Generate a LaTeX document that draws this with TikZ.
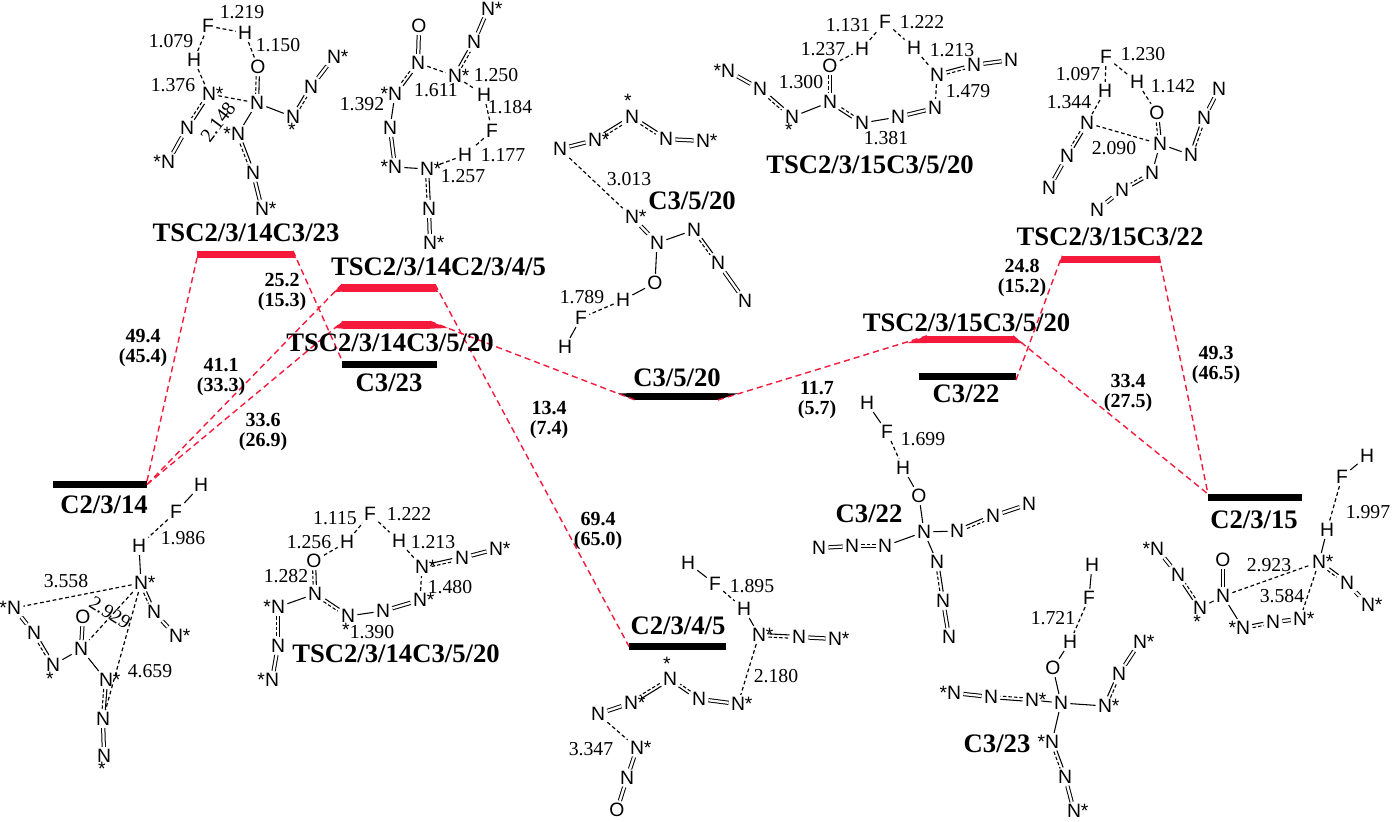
\documentclass[tikz,border=0pt]{standalone}
\usepackage{fontspec}
\setmainfont{Liberation Serif}
\newfontfamily\atomfont{Liberation Sans}
\usetikzlibrary{decorations.markings}
\definecolor{tsred}{RGB}{245,25,60}
\tikzset{
  atom/.style={inner sep=1.6pt,font=\atomfont\fontsize{14.5}{16}\selectfont},
  dist/.style={inner sep=0pt,font=\fontsize{14.8}{16}\selectfont,text=black},
  title/.style={inner sep=0pt,font=\bfseries\fontsize{20}{24}\selectfont},
  energy/.style={inner sep=0pt,align=center,font=\bfseries\fontsize{15}{15}\selectfont},
  lvblack/.style={fill=black,inner sep=0pt,outer sep=0pt,minimum height=5.25pt},
  lvred/.style={fill=tsred,inner sep=0pt,outer sep=0pt,minimum height=5.5pt},
  path/.style={tsred,line width=1.05pt,dash pattern=on 4.6pt off 3pt},
  sb/.style={line width=0.8pt},
  db/.style={line width=0.75pt,double,double distance=1.7pt},
  hb/.style={line width=0.9pt,dash pattern=on 2.8pt off 2pt},
  pb/.style={draw=none,postaction={decorate,decoration={markings,mark=at position 0.5 with {
    \draw[draw=black,line width=0.8pt] ({-0.5*\pgfdecoratedpathlength},1.2pt) -- ({0.5*\pgfdecoratedpathlength},1.2pt);
    \draw[draw=black,line width=0.8pt,dash pattern=on 2.6pt off 1.5pt] ({-0.5*\pgfdecoratedpathlength},-1.2pt) -- ({0.5*\pgfdecoratedpathlength},-1.2pt);
  }}}},
}
\begin{document}
\begin{tikzpicture}[x=0.75pt,y=0.75pt,yscale=-1,xscale=1]
\useasboundingbox (0,0) rectangle (1392,821);

%Energy levels
\node[lvblack,minimum width=70.5pt] (lvA) at (100,484.5) {};
\node[lvred,minimum width=72pt] (lvB) at (245,254.5) {};
\node[lvred,minimum width=69.75pt] (lvC) at (388.5,288) {};
\node[lvred,minimum width=65.25pt] (lvD) at (386.5,325) {};
\node[lvblack,minimum width=71.25pt] (lvE) at (389.5,364) {};
\node[lvblack,minimum width=62.25pt] (lvF) at (676.5,396.5) {};
\node[lvred,minimum width=64.5pt] (lvG) at (970,339.5) {};
\node[lvblack,minimum width=72.75pt] (lvH) at (967.5,376.5) {};
\node[lvred,minimum width=72.75pt] (lvI) at (1110.5,259.5) {};
\node[lvblack,minimum width=70.5pt] (lvJ) at (1255,497.5) {};
\node[lvblack,minimum width=72.75pt] (lvK) at (677.5,646.5) {};
%Tapered ends
\fill[tsred] (lvB.north east) -- (lvB.south east) -- (296,258) -- cycle;
\fill[tsred] (lvC.north west) -- (lvC.south west) -- (334,292) -- cycle;
\fill[tsred] (lvC.north east) -- (lvC.south east) -- (438,292) -- cycle;
\fill[tsred] (lvD.north west) -- (lvD.south west) -- (334,328) -- cycle;
\fill[tsred] (lvD.north east) -- (lvD.south east) -- (448,328) -- cycle;
\fill[black] (lvF.south west) -- (lvF.north west) -- (618,393.5) -- cycle;
\fill[black] (lvF.south east) -- (lvF.north east) -- (738,393.5) -- cycle;
\fill[tsred] (lvG.north west) -- (lvG.south west) -- (907,343) -- cycle;
\fill[tsred] (lvG.north east) -- (lvG.south east) -- (1023,343) -- cycle;
\fill[tsred] (lvI.north west) -- (lvI.south west) -- (1059,263) -- cycle;
\fill[tsred] (lvI.north east) -- (lvI.south east) -- (1161,263) -- cycle;

%Reaction paths
\draw[path] (lvA.north east) -- (lvB.south west);
\draw[path] (lvA.east) -- (lvC.north west);
\draw[path] (lvA.east) -- (lvD.north west);
\draw[path] (lvB.north east) -- (lvE.north west);
\draw[path] (lvC.north east) -- (lvK.west);
\draw[path] (lvD.north east) -- (lvF.south west);
\draw[path] (lvF.south east) -- (lvG.north west);
\draw[path] (lvG.north east) -- (lvJ.north west);
\draw[path] (lvH.south east) -- (lvI.north west);
\draw[path] (lvI.north east) -- (lvJ.north west);

%Level and structure titles
\node[title] (t1) at (246,233) {TSC2/3/14C3/23};
\node[title] (t2) at (438.5,267) {TSC2/3/14C2/3/4/5};
\node[title] (t3) at (390,343) {TSC2/3/14C3/5/20};
\node[title] (t4) at (389,383) {C3/23};
\node[title] (t5) at (104,505) {C2/3/14};
\node[title] (t6) at (677,378) {C3/5/20};
\node[title] (t7) at (966.5,323) {TSC2/3/15C3/5/20};
\node[title] (t8) at (966,394) {C3/22};
\node[title] (t9) at (1110,237) {TSC2/3/15C3/22};
\node[title] (t10) at (1254,520) {C2/3/15};
\node[title] (t11) at (678,626) {C2/3/4/5};
\node[title] (t12) at (396,654) {TSC2/3/14C3/5/20};
\node[title] (t13) at (870,165) {TSC2/3/15C3/5/20};
\node[title] (t14) at (692,201) {C3/5/20};
\node[title] (t15) at (869,514) {C3/22};
\node[title] (t16) at (997,744) {C3/23};

%Energies
\node[energy] (e1) at (143,348) {49.4\\(45.4)};
\node[energy] (e2) at (282,292) {25.2\\(15.3)};
\node[energy] (e3) at (221,377) {41.1\\(33.3)};
\node[energy] (e4) at (263,432) {33.6\\(26.9)};
\node[energy] (e5) at (549,420) {13.4\\(7.4)};
\node[energy] (e6) at (817,400) {11.7\\(5.7)};
\node[energy] (e7) at (1022,278) {24.8\\(15.2)};
\node[energy] (e8) at (1128,393) {33.4\\(27.5)};
\node[energy] (e9) at (1216,365) {49.3\\(46.5)};
\node[energy] (e10) at (598,531) {69.4\\(65.0)};

%Structure TSC2/3/14C3/23
\node[atom] (aF) at (208,26) {F};
\node[atom] (aH1) at (245,33) {H};
\node[atom] (aH2) at (194,60) {H};
\node[atom] (aO) at (258,67) {O};
\node[atom] (aN1) at (209,94) {N\rlap{*}};
\node[atom] (aN2) at (257,103) {N};
\node[atom] (aN3) at (293,117) {N};
\node[atom] (aS3) at (292,130) {*};
\node[atom] (aN4) at (311,87) {N};
\node[atom] (aN5) at (334,57) {N\rlap{*}};
\node[atom] (aN6) at (187,128) {N};
\node[atom] (aN7) at (168,162) {\llap{*}N};
\node[atom] (aN8) at (238,134) {\llap{*}N};
\node[atom] (aN9) at (253,173) {N};
\node[atom] (aN10) at (262,209) {N\rlap{*}};
\draw[hb] (aH2) -- (aF);
\draw[hb] (aF) -- (aH1);
\draw[hb] (aH1) -- (aO);
\draw[hb] (aH2) -- (aN1);
\draw[hb] (aN1) -- (aN2);
\draw[pb] (aO) -- (aN2);
\draw[sb] (aN2) -- (aN3);
\draw[pb] (aN3) -- (aN4);
\draw[db] (aN4) -- (aN5);
\draw[pb] (aN1) -- (aN6);
\draw[db] (aN6) -- (aN7);
\draw[sb] (aN2) -- (aN8);
\draw[pb] (aN8) -- (aN9);
\draw[db] (aN9) -- (aN10);
\node[dist] (ad1) at (242,12) {1.219};
\node[dist] (ad2) at (171,41) {1.079};
\node[dist] (ad3) at (278,45) {1.150};
\node[dist] (ad4) at (173,85) {1.376};
\node[dist,rotate=53] (ad5) at (218,122) {2.148};

%Structure TSC2/3/14C2/3/4/5
\node[atom] (bO) at (419,26) {O};
\node[atom] (bN1) at (418,63) {N};
\node[atom] (bN2) at (455,76) {N\rlap{*}};
\node[atom] (bN3) at (474,42) {N};
\node[atom] (bN4) at (488,9) {N\rlap{*}};
\node[atom] (bH1) at (484,95) {H};
\node[atom] (bF) at (492,131) {F};
\node[atom] (bH2) at (465,155) {H};
\node[atom] (bN5) at (427,169) {N\rlap{*}};
\node[atom] (bN6) at (395,167) {\llap{*}N};
\node[atom] (bN7) at (390,128) {N};
\node[atom] (bN8) at (395,94) {\llap{*}N};
\node[atom] (bN9) at (429,209) {N};
\node[atom] (bN10) at (430,243) {N\rlap{*}};
\draw[db] (bO) -- (bN1);
\draw[hb] (bN1) -- (bN2);
\draw[pb] (bN1) -- (bN8);
\draw[sb] (bN8) -- (bN7);
\draw[db] (bN7) -- (bN6);
\draw[sb] (bN6) -- (bN5);
\draw[pb] (bN5) -- (bN9);
\draw[db] (bN9) -- (bN10);
\draw[pb] (bN2) -- (bN3);
\draw[db] (bN3) -- (bN4);
\draw[hb] (bN2) -- (bH1);
\draw[hb] (bH1) -- (bF);
\draw[hb] (bF) -- (bH2);
\draw[hb] (bH2) -- (bN5);
\node[dist] (bd1) at (496,75) {1.250};
\node[dist] (bd2) at (436,90) {1.611};
\node[dist] (bd3) at (362,104) {1.392};
\node[dist] (bd4) at (510,107) {1.184};
\node[dist] (bd5) at (503,155) {1.177};
\node[dist] (bd6) at (463,176) {1.257};

%Structure C3/5/20
\node[atom] (cS1) at (628,101) {*};
\node[atom] (cN1) at (632,117) {N};
\node[atom] (cN2) at (595,140) {N\rlap{*}};
\node[atom] (cN3) at (560,149) {N};
\node[atom] (cN4) at (666,139) {N};
\node[atom] (cN5) at (703,141) {N\rlap{*}};
\node[atom] (cN6) at (632,217) {N\rlap{*}};
\node[atom] (cN7) at (657,243) {N};
\node[atom] (cN8) at (694,230) {N};
\node[atom] (cN9) at (718,263) {N};
\node[atom] (cN10) at (745,301) {N};
\node[atom] (cO) at (655,283) {O};
\node[atom] (cH1) at (623,300) {H};
\node[atom] (cF) at (581,318) {F};
\node[atom] (cH2) at (565,347) {H};
\draw[db] (cN3) -- (cN2);
\draw[pb] (cN2) -- (cN1);
\draw[pb] (cN1) -- (cN4);
\draw[db] (cN4) -- (cN5);
\draw[hb] (cN3) -- (cN6);
\draw[db] (cN6) -- (cN7);
\draw[sb] (cN7) -- (cN8);
\draw[pb] (cN8) -- (cN9);
\draw[db] (cN9) -- (cN10);
\draw[sb] (cN7) -- (cO);
\draw[sb] (cO) -- (cH1);
\draw[hb] (cH1) -- (cF);
\draw[sb] (cF) -- (cH2);
\node[dist] (cd1) at (629,179) {3.013};
\node[dist] (cd2) at (582,297) {1.789};

%Structure TSC2/3/15C3/5/20
\node[atom] (dN1) at (728,71) {\llap{*}N};
\node[atom] (dN2) at (760,89) {N};
\node[atom] (dN3) at (792,117) {N};
\node[atom] (dS3) at (789,130) {*};
\node[atom] (dN4) at (830,102) {N};
\node[atom] (dO) at (830,66) {O};
\node[atom] (dH1) at (862,49) {H};
\node[atom] (dF) at (885,22) {F};
\node[atom] (dH2) at (914,48) {H};
\node[atom] (dN5) at (937,75) {N};
\node[atom] (dN6) at (974,65) {N};
\node[atom] (dN7) at (1011,60) {N};
\node[atom] (dN8) at (935,108) {N};
\node[atom] (dN9) at (898,117) {N};
\node[atom] (dN10) at (862,123) {N};
\draw[db] (dN1) -- (dN2);
\draw[pb] (dN2) -- (dN3);
\draw[sb] (dN3) -- (dN4);
\draw[pb] (dO) -- (dN4);
\draw[hb] (dO) -- (dH1);
\draw[hb] (dH1) -- (dF);
\draw[hb] (dF) -- (dH2);
\draw[hb] (dH2) -- (dN5);
\draw[pb] (dN5) -- (dN6);
\draw[db] (dN6) -- (dN7);
\draw[hb] (dN5) -- (dN8);
\draw[db] (dN8) -- (dN9);
\draw[sb] (dN9) -- (dN10);
\draw[pb] (dN10) -- (dN4);
\node[dist] (dd1) at (848,25) {1.131};
\node[dist] (dd2) at (922,22) {1.222};
\node[dist] (dd3) at (823,49) {1.237};
\node[dist] (dd4) at (952,50) {1.213};
\node[dist] (dd5) at (801,82) {1.300};
\node[dist] (dd6) at (886,138) {1.381};
\node[dist] (dd7) at (968,91) {1.479};

%Structure TSC2/3/15C3/22
\node[atom] (eF) at (1106,57) {F};
\node[atom] (eH1) at (1105,91) {H};
\node[atom] (eH2) at (1137,82) {H};
\node[atom] (eO) at (1157,113) {O};
\node[atom] (eN1) at (1087,123) {N};
\node[atom] (eN2) at (1160,144) {N};
\node[atom] (eN3) at (1191,155) {N};
\node[atom] (eN4) at (1204,118) {N};
\node[atom] (eN5) at (1219,89) {N};
\node[atom] (eN6) at (1152,173) {N};
\node[atom] (eN7) at (1122,190) {N};
\node[atom] (eN8) at (1097,210) {N};
\node[atom] (eN9) at (1067,156) {N};
\node[atom] (eN10) at (1049,188) {N};
\draw[hb] (eF) -- (eH1);
\draw[hb] (eH1) -- (eN1);
\draw[hb] (eF) -- (eH2);
\draw[hb] (eH2) -- (eO);
\draw[pb] (eO) -- (eN2);
\draw[hb] (eN1) -- (eN2);
\draw[sb] (eN2) -- (eN3);
\draw[pb] (eN3) -- (eN4);
\draw[db] (eN4) -- (eN5);
\draw[sb] (eN2) -- (eN6);
\draw[pb] (eN6) -- (eN7);
\draw[db] (eN7) -- (eN8);
\draw[pb] (eN1) -- (eN9);
\draw[db] (eN9) -- (eN10);
\node[dist] (ed1) at (1143,54) {1.230};
\node[dist] (ed2) at (1078,74) {1.097};
\node[dist] (ed3) at (1173,86) {1.142};
\node[dist] (ed4) at (1069,102) {1.344};
\node[dist] (ed5) at (1114,148) {2.090};

%Structure C2/3/14
\node[atom] (fH1) at (201,485) {H};
\node[atom] (fF) at (176,512) {F};
\node[atom] (fH2) at (139,546) {H};
\node[atom] (fN1) at (141,583) {N\rlap{*}};
\node[atom] (fN2) at (154,612) {N};
\node[atom] (fN3) at (176,636) {N\rlap{*}};
\node[atom] (fN4) at (14,608) {\llap{*}N};
\node[atom] (fN5) at (34,633) {N};
\node[atom] (fN6) at (53,665) {N};
\node[atom] (fS6) at (50,679) {*};
\node[atom] (fN7) at (81,649) {N};
\node[atom] (fO) at (83,617) {O};
\node[atom] (fN8) at (106,680) {N\rlap{*}};
\node[atom] (fN9) at (103,719) {N};
\node[atom] (fN10) at (104,756) {N};
\node[atom] (fS10) at (102,769) {*};
\draw[sb] (fH1) -- (fF);
\draw[hb] (fF) -- (fH2);
\draw[sb] (fH2) -- (fN1);
\draw[pb] (fN1) -- (fN2);
\draw[db] (fN2) -- (fN3);
\draw[hb] (fN1) -- (fN4);
\draw[hb] (fN1) -- (fN7);
\draw[hb] (fN1) -- (fN9);
\draw[db] (fO) -- (fN7);
\draw[db] (fN4) -- (fN5);
\draw[pb] (fN5) -- (fN6);
\draw[sb] (fN7) -- (fN6);
\draw[sb] (fN7) -- (fN8);
\draw[pb] (fN8) -- (fN9);
\draw[db] (fN9) -- (fN10);
\node[dist] (fd1) at (183,538) {1.986};
\node[dist] (fd2) at (66,581) {3.558};
\node[dist,rotate=-32] (fd3) at (110,613) {2.929};
\node[dist] (fd4) at (150,671) {4.659};

%Structure TSC2/3/14C3/5/20
\node[atom] (gF) at (370,514) {F};
\node[atom] (gH1) at (347,542) {H};
\node[atom] (gH2) at (399,541) {H};
\node[atom] (gO) at (314,561) {O};
\node[atom] (gN1) at (315,594) {N};
\node[atom] (gN2) at (278,607) {\llap{*}N};
\node[atom] (gN3) at (278,646) {N};
\node[atom] (gN4) at (272,680) {\llap{*}N};
\node[atom] (gN5) at (348,616) {N};
\node[atom] (gS5) at (346,630) {*};
\node[atom] (gN6) at (383,611) {N};
\node[atom] (gN7) at (420,600) {N\rlap{*}};
\node[atom] (gN8) at (422,567) {N\rlap{*}};
\node[atom] (gN9) at (462,558) {N};
\node[atom] (gN10) at (496,549) {N\rlap{*}};
\draw[hb] (gO) -- (gH1);
\draw[hb] (gH1) -- (gF);
\draw[hb] (gF) -- (gH2);
\draw[hb] (gH2) -- (gN8);
\draw[pb] (gO) -- (gN1);
\draw[sb] (gN1) -- (gN2);
\draw[pb] (gN2) -- (gN3);
\draw[db] (gN3) -- (gN4);
\draw[pb] (gN1) -- (gN5);
\draw[sb] (gN5) -- (gN6);
\draw[db] (gN6) -- (gN7);
\draw[hb] (gN7) -- (gN8);
\draw[pb] (gN8) -- (gN9);
\draw[db] (gN9) -- (gN10);
\node[dist] (gd1) at (335,518) {1.115};
\node[dist] (gd2) at (409,514) {1.222};
\node[dist] (gd3) at (309,542) {1.256};
\node[dist] (gd4) at (433,542) {1.213};
\node[dist] (gd5) at (286,576) {1.282};
\node[dist] (gd6) at (450,587) {1.480};
\node[dist] (gd7) at (372,632) {1.390};

%Structure C2/3/4/5
\node[atom] (hH1) at (688,563) {H};
\node[atom] (hF) at (715,584) {F};
\node[atom] (hH2) at (744,609) {H};
\node[atom] (hN1) at (759,635) {N\rlap{*}};
\node[atom] (hN2) at (799,637) {N};
\node[atom] (hN3) at (835,639) {N\rlap{*}};
\node[atom] (hN4) at (738,704) {N\rlap{*}};
\node[atom] (hN5) at (699,699) {N};
\node[atom] (hN6) at (670,679) {N};
\node[atom] (hS6) at (667,664) {*};
\node[atom] (hN7) at (631,703) {N\rlap{*}};
\node[atom] (hN8) at (598,714) {N};
\node[atom] (hN9) at (637,748) {N\rlap{*}};
\node[atom] (hN10) at (627,778) {N};
\node[atom] (hO) at (617,810) {O};
\draw[sb] (hH1) -- (hF);
\draw[hb] (hF) -- (hH2);
\draw[sb] (hH2) -- (hN1);
\draw[pb] (hN1) -- (hN2);
\draw[db] (hN2) -- (hN3);
\draw[hb] (hN1) -- (hN4);
\draw[db] (hN4) -- (hN5);
\draw[pb] (hN5) -- (hN6);
\draw[pb] (hN6) -- (hN7);
\draw[db] (hN7) -- (hN8);
\draw[hb] (hN8) -- (hN9);
\draw[db] (hN9) -- (hN10);
\draw[db] (hN10) -- (hO);
\node[dist] (hd1) at (752,586) {1.895};
\node[dist] (hd2) at (776,676) {2.180};
\node[dist] (hd3) at (591,749) {3.347};

%Structure C3/22
\node[atom] (iH1) at (867,403) {H};
\node[atom] (iF) at (887,432) {F};
\node[atom] (iH2) at (903,468) {H};
\node[atom] (iO) at (919,496) {O};
\node[atom] (iN1) at (924,532) {N};
\node[atom] (iN2) at (957,531) {N};
\node[atom] (iN3) at (993,516) {N};
\node[atom] (iN4) at (1029,504) {N};
\node[atom] (iN5) at (885,546) {N};
\node[atom] (iN6) at (852,546) {N};
\node[atom] (iN7) at (819,548) {N};
\node[atom] (iN8) at (937,562) {N};
\node[atom] (iN9) at (943,601) {N};
\node[atom] (iN10) at (949,637) {N};
\draw[sb] (iH1) -- (iF);
\draw[hb] (iF) -- (iH2);
\draw[sb] (iH2) -- (iO);
\draw[sb] (iO) -- (iN1);
\draw[sb] (iN1) -- (iN2);
\draw[pb] (iN2) -- (iN3);
\draw[db] (iN3) -- (iN4);
\draw[sb] (iN1) -- (iN5);
\draw[pb] (iN5) -- (iN6);
\draw[db] (iN6) -- (iN7);
\draw[sb] (iN1) -- (iN8);
\draw[pb] (iN8) -- (iN9);
\draw[db] (iN9) -- (iN10);
\node[dist] (id1) at (923,439) {1.699};

%Structure C3/23
\node[atom] (jH1) at (1092,565) {H};
\node[atom] (jF) at (1089,598) {F};
\node[atom] (jH2) at (1070,642) {H};
\node[atom] (jO) at (1053,668) {O};
\node[atom] (jN1) at (1061,703) {N};
\node[atom] (jN2) at (1032,700) {N\rlap{*}};
\node[atom] (jN3) at (991,697) {N};
\node[atom] (jN4) at (954,693) {\llap{*}N};
\node[atom] (jN5) at (1105,706) {N\rlap{*}};
\node[atom] (jN6) at (1119,674) {N};
\node[atom] (jN7) at (1140,642) {N\rlap{*}};
\node[atom] (jN8) at (1052,742) {\llap{*}N};
\node[atom] (jN9) at (1065,777) {N};
\node[atom] (jN10) at (1074,811) {N\rlap{*}};
\draw[sb] (jH1) -- (jF);
\draw[hb] (jF) -- (jH2);
\draw[sb] (jH2) -- (jO);
\draw[sb] (jO) -- (jN1);
\draw[sb] (jN1) -- (jN2);
\draw[pb] (jN2) -- (jN3);
\draw[db] (jN3) -- (jN4);
\draw[sb] (jN1) -- (jN5);
\draw[pb] (jN5) -- (jN6);
\draw[db] (jN6) -- (jN7);
\draw[sb] (jN1) -- (jN8);
\draw[pb] (jN8) -- (jN9);
\draw[db] (jN9) -- (jN10);
\node[dist] (jd1) at (1053,618) {1.721};

%Structure C2/3/15
\node[atom] (kH1) at (1367,456) {H};
\node[atom] (kF) at (1342,477) {F};
\node[atom] (kH2) at (1327,530) {H};
\node[atom] (kN1) at (1319,562) {N\rlap{*}};
\node[atom] (kN2) at (1347,583) {N};
\node[atom] (kN3) at (1368,605) {N\rlap{*}};
\node[atom] (kO) at (1223,560) {O};
\node[atom] (kN4) at (1223,596) {N};
\node[atom] (kN5) at (1200,608) {N};
\node[atom] (kS5) at (1197,622) {*};
\node[atom] (kN6) at (1178,575) {N};
\node[atom] (kN7) at (1157,549) {\llap{*}N};
\node[atom] (kN8) at (1243,628) {\llap{*}N};
\node[atom] (kN9) at (1273,622) {N};
\node[atom] (kN10) at (1300,619) {N\rlap{*}};
\draw[sb] (kH1) -- (kF);
\draw[hb] (kF) -- (kH2);
\draw[sb] (kH2) -- (kN1);
\draw[pb] (kN1) -- (kN2);
\draw[db] (kN2) -- (kN3);
\draw[db] (kO) -- (kN4);
\draw[hb] (kN4) -- (kN1);
\draw[hb] (kN1) -- (kN10);
\draw[sb] (kN4) -- (kN5);
\draw[pb] (kN5) -- (kN6);
\draw[db] (kN6) -- (kN7);
\draw[sb] (kN4) -- (kN8);
\draw[pb] (kN8) -- (kN9);
\draw[db] (kN9) -- (kN10);
\node[dist] (kd1) at (1368,512) {1.997};
\node[dist] (kd2) at (1269,565) {2.923};
\node[dist] (kd3) at (1282,596) {3.584};

\end{tikzpicture}
\end{document}
